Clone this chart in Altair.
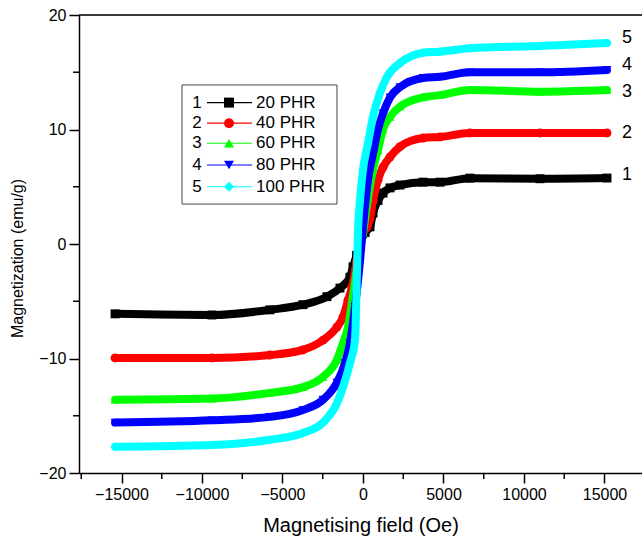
import altair as alt
import pandas as pd

# ---------------- data ----------------
series_ids = ["1", "2", "3", "4", "5"]
series_names = ["20 PHR", "40 PHR", "60 PHR", "80 PHR", "100 PHR"]
series_colors = ["#000000", "#ff0000", "#00ff00", "#0000ff", "#00ffff"]
series_shapes = ["square", "circle", "triangle-up", "triangle-down", "diamond"]

field_1 = [-15400, -9380, -5780, -3730, -2240, -1430, -810, -620, -400, -190, 130, 435, 621, 932, 1242, 1677, 2298, 3727, 4783, 6646, 10994, 15155]
mag_1 = [-6.1, -6.2, -5.75, -5.3, -4.6, -3.85, -2.9, -2.0, -1.0, 0.0, 1.0, 1.5, 2.7, 3.8, 4.45, 4.9, 5.15, 5.4, 5.4, 5.75, 5.7, 5.76]

field_2 = [-15400, -9380, -5780, -3730, -2484, -1615, -1242, -932, -683, -400, -190, 250, 435, 621, 932, 1242, 1677, 2298, 3727, 4783, 6646, 10994, 15155]
mag_2 = [-9.95, -9.95, -9.7, -9.25, -8.4, -7.25, -6.4, -4.9, -3.75, -1.5, 0.3, 1.5, 2.2, 3.8, 5.6, 6.7, 7.6, 8.5, 9.25, 9.35, 9.7, 9.7, 9.7]

field_3 = [-15400, -9380, -5780, -3730, -2484, -1615, -1242, -932, -621, -311, 0, 311, 621, 932, 1242, 1677, 2298, 3727, 4783, 6646, 10994, 15155]
mag_3 = [-13.6, -13.5, -13.0, -12.5, -11.6, -10.1, -8.65, -7.25, -4.5, -1.5, 1.0, 4.0, 6.5, 8.2, 10.0, 11.1, 12.0, 12.8, 13.0, 13.45, 13.3, 13.45]

field_4 = [-15400, -9380, -5780, -3730, -2484, -1615, -1118, -807, -497, -186, 0, 311, 621, 932, 1242, 1677, 2298, 3727, 4783, 6646, 10994, 15155]
mag_4 = [-15.6, -15.4, -15.1, -14.5, -13.6, -12.1, -10.4, -8.65, -5.5, -1.5, 1.5, 5.6, 7.9, 10.0, 11.4, 12.8, 13.7, 14.5, 14.6, 15.0, 15.0, 15.2]

field_5 = [-15400, -9380, -5780, -3730, -2484, -1615, -1242, -807, -497, -400, -311, -186, 0, 311, 621, 1056, 1491, 2298, 3727, 4783, 6646, 10994, 15155]
mag_5 = [-17.7, -17.55, -17.1, -16.5, -15.6, -13.9, -12.5, -10.4, -8.4, -4.0, 1.0, 3.8, 6.5, 8.8, 11.1, 13.2, 14.6, 15.8, 16.7, 16.8, 17.1, 17.3, 17.55]

end_label_field = [16400, 16400, 16400, 16400, 16400]
end_label_mag = [6.0, 9.7, 13.3, 15.6, 18.0]

x_major_ticks = [-15000, -10000, -5000, 0, 5000, 10000, 15000]
x_minor_ticks = [-17500, -12500, -7500, -2500, 2500, 7500, 12500]
y_major_ticks = [-20, -10, 0, 10, 20]
y_minor_ticks = [-15, -5, 5, 15]

# ---------------- layout constants ----------------
X_DOMAIN = [-17640, 17330]
Y_DOMAIN = [-20, 20]
W, H = 563, 458
FONT = "Liberation Sans"

fields = [field_1, field_2, field_3, field_4, field_5]
mags = [mag_1, mag_2, mag_3, mag_4, mag_5]

xs = alt.Scale(domain=X_DOMAIN, nice=False, zero=False)
ys = alt.Scale(domain=Y_DOMAIN, nice=False, zero=False)

x_axis = alt.Axis(
    values=x_major_ticks, format="d", grid=False,
    labelFont=FONT, labelFontSize=16, labelColor="black", labelPadding=3,
    tickSize=10, tickWidth=1.5, tickColor="black",
    domainColor="black", domainWidth=1.5,
    title="Magnetising field (Oe)", titleFont=FONT, titleFontSize=20,
    titleFontWeight="normal", titleColor="black", titleY=42, titleBaseline="top",
)
y_axis = alt.Axis(
    values=y_major_ticks, format="d", grid=False,
    labelFont=FONT, labelFontSize=16, labelColor="black", labelPadding=3,
    tickSize=10, tickWidth=1.5, tickColor="black",
    domainColor="black", domainWidth=1.5,
    title="Magnetization (emu/g)", titleFont=FONT, titleFontSize=16,
    titleFontWeight="normal", titleColor="black", titleX=-62, titleY=243,
    titleBaseline="middle", titleAngle=270,
)


def X(f):
    return alt.X(f, scale=xs, axis=x_axis)


def Y(f):
    return alt.Y(f, scale=ys, axis=y_axis)


layers = []

# top frame line
layers.append(
    alt.Chart(pd.DataFrame({"v": [Y_DOMAIN[1]]})).mark_rule(color="black", strokeWidth=1.5).encode(
        x=alt.value(0), x2=alt.value(W), y=Y("v:Q")
    )
)

# curves, drawn series by series so later series lie on top
for i, sid in enumerate(series_ids):
    df = pd.DataFrame({"field": fields[i], "mag": mags[i]})
    line = alt.Chart(df).mark_line(
        color=series_colors[i], strokeWidth=8, strokeCap="round", strokeJoin="round",
        interpolate="monotone",
    ).encode(x=X("field:Q"), y=Y("mag:Q"), order=alt.Order("field:Q"))
    pts = alt.Chart(df).mark_point(
        filled=True, opacity=1, size=80, shape=series_shapes[i], color=series_colors[i]
    ).encode(x=X("field:Q"), y=Y("mag:Q"))
    layers += [line, pts]

# minor ticks
layers.append(
    alt.Chart(pd.DataFrame({"v": x_minor_ticks})).mark_rule(color="black", strokeWidth=1.5).encode(
        x=X("v:Q"), y=alt.value(H), y2=alt.value(H + 6)
    )
)
layers.append(
    alt.Chart(pd.DataFrame({"v": y_minor_ticks})).mark_rule(color="black", strokeWidth=1.5).encode(
        y=Y("v:Q"), x=alt.value(-6), x2=alt.value(0)
    )
)

# end labels 1..5
layers.append(
    alt.Chart(pd.DataFrame({"f": end_label_field, "m": end_label_mag, "t": series_ids})).mark_text(
        font=FONT, fontSize=18, color="black", align="center", baseline="middle"
    ).encode(x=X("f:Q"), y=Y("m:Q"), text="t:N")
)

# hand-built legend box (placed in data space)
LEG_BOX = dict(x1=-11242, x2=-1615, y1=3.49, y2=13.89)
leg_rows = [12.35, 10.55, 8.8, 6.9, 5.0]
layers.append(
    alt.Chart(pd.DataFrame([LEG_BOX])).mark_rect(fill="white", stroke="#444444", strokeWidth=1).encode(
        x=X("x1:Q"), x2="x2:Q", y=Y("y1:Q"), y2="y2:Q",
    )
)
for i, sid in enumerate(series_ids):
    ldf = pd.DataFrame({"a": [-9689], "b": [-6894], "c": [-8323], "n": [-10311], "l": [-6646],
                        "y": [leg_rows[i]], "num": [sid], "name": [series_names[i]]})
    base = alt.Chart(ldf)
    layers.append(base.mark_rule(color=series_colors[i], strokeWidth=1.2).encode(
        x=X("a:Q"), x2="b:Q", y=Y("y:Q")))
    layers.append(base.mark_point(filled=True, opacity=1, size=100, shape=series_shapes[i],
                                  color=series_colors[i]).encode(x=X("c:Q"), y=Y("y:Q")))
    layers.append(base.mark_text(font=FONT, fontSize=17, color="black", align="center",
                                 baseline="middle").encode(x=X("n:Q"), y=Y("y:Q"), text="num:N"))
    layers.append(base.mark_text(font=FONT, fontSize=17, color="black", align="left",
                                 baseline="middle").encode(x=X("l:Q"), y=Y("y:Q"), text="name:N"))

chart = alt.layer(*layers).properties(
    width=W, height=H,
    autosize=alt.AutoSizeParams(type="none"),
    padding={"left": 79, "top": 15, "right": 0, "bottom": 66},
).configure_view(stroke=None).configure(background="white")

chart.save("out.html", embed_options={"renderer": "svg", "actions": False})
